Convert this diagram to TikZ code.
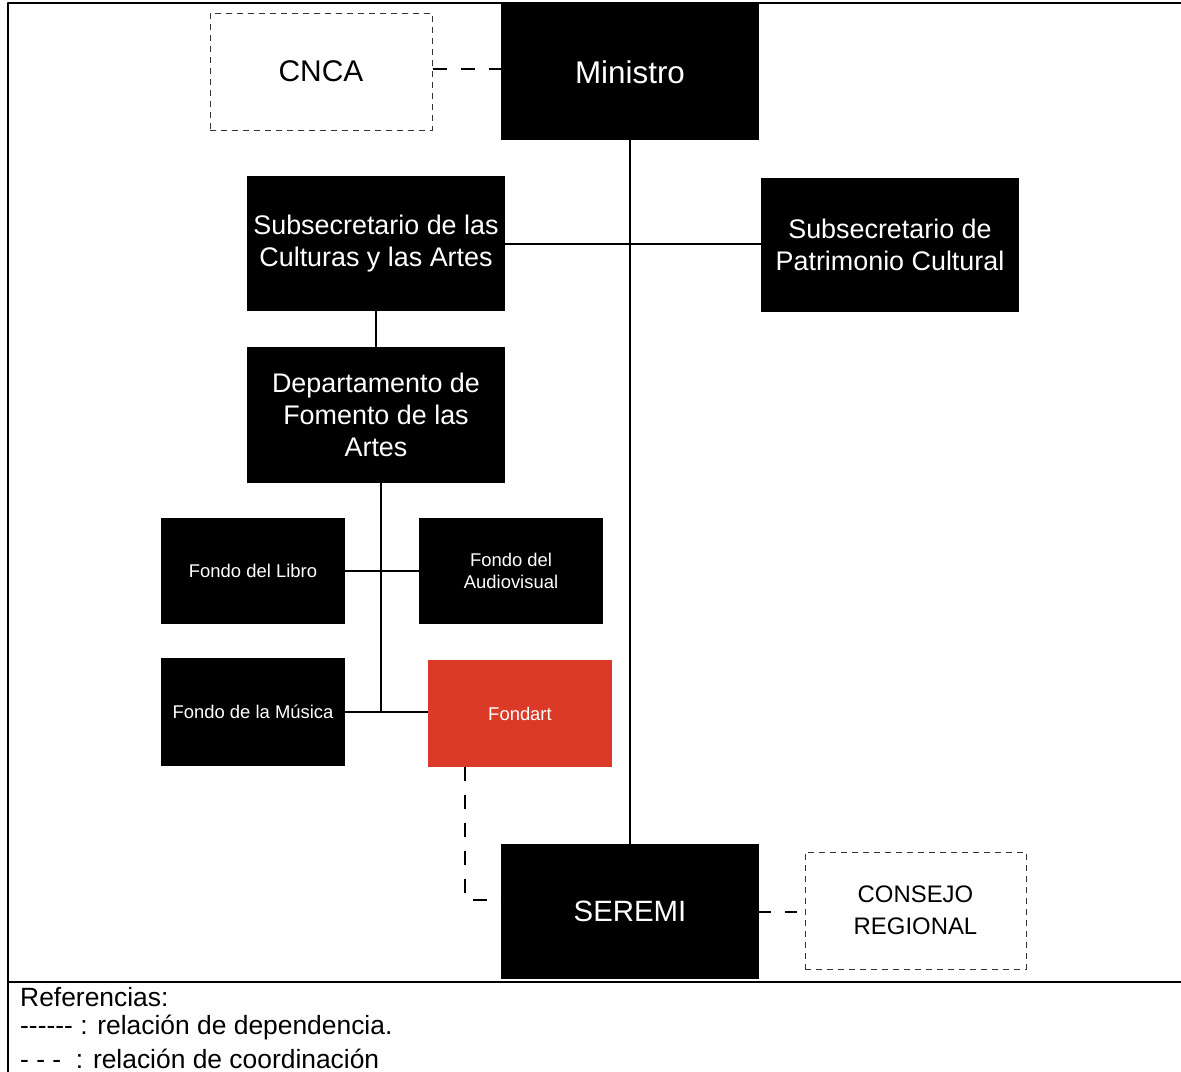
\documentclass[tikz,border=0pt]{standalone}
\usepackage{fontspec}
\setmainfont{Liberation Sans}[Ligatures=TeXOff]
\usepackage{xcolor}
\usetikzlibrary{arrows}

\definecolor{fondartred}{HTML}{DB3B26}

\begin{document}
\begin{tikzpicture}[x=1bp,y=-1bp,line join=bevel,
  unit/.style={fill=black,text=white,inner sep=0pt,align=center,minimum width=258bp,minimum height=135bp,font=\fontsize{27}{32.5}\selectfont},
  fondo/.style={unit,minimum width=184bp,minimum height=106bp,font=\fontsize{18.5}{22}\selectfont},
  outside/.style={draw=black!80,line width=1bp,dash pattern=on 6bp off 5bp,inner sep=0pt,align=center,font=\fontsize{24}{32}\selectfont},
  dep/.style={line width=2bp},
  coord/.style={line width=2bp,dash pattern=on 14bp off 14bp},
  note/.style={anchor=west,inner sep=0pt,font=\fontsize{26.5}{30}\selectfont}]
  \useasboundingbox (0,0) rectangle (1181,1072);
%%
  % Frame
  \draw[line width=2.5bp] (8,1072) -- (8,3) -- (1181,3);
  \draw[line width=2bp] (8,982) -- (1181,982);
  % Node: cnca
  \node[outside,minimum width=222bp,minimum height=117bp,font=\fontsize{30}{32}\selectfont] (cnca) at (321,71.5) {CNCA};
  % Node: ministro
  \node[unit,minimum height=136bp,font=\fontsize{31.5}{32}\selectfont] (ministro) at (630,72) {Ministro};
  % Node: subsec
  \node[unit] (subsec) at (376,243.5) {Subsecretario de las\\Culturas y las Artes};
  % Node: patrimonio
  \node[unit,minimum height=134bp] (patrimonio) at (890,245) {Subsecretario de\\Patrimonio Cultural};
  % Node: depto
  \node[unit,minimum height=136bp] (depto) at (376,415) {Departamento de\\Fomento de las\\Artes};
  % Node: libro
  \node[fondo] (libro) at (253,571) {Fondo del Libro};
  % Node: audiovisual
  \node[fondo] (audiovisual) at (511,571) {Fondo del\\Audiovisual};
  % Node: musica
  \node[fondo,minimum height=108bp] (musica) at (253,712) {Fondo de la M\'usica};
  % Node: fondart
  \node[fondo,fill=fondartred,minimum height=107bp] (fondart) at (520,713.5) {Fondart};
  % Node: seremi
  \node[unit,font=\fontsize{29.5}{32}\selectfont] (seremi) at (630,911.5) {SEREMI};
  % Node: consejo
  \node[outside,minimum width=221bp,minimum height=117bp] (consejo) at (915.5,910.5) {CONSEJO\\REGIONAL};
%%
  % Edge: ministro -> seremi
  \draw[dep] (ministro) -- (seremi);
  % Edge: subsec -> patrimonio
  \draw[dep] (subsec.east) -- (subsec.east -| patrimonio.west);
  % Edge: subsec -> depto
  \draw[dep] (subsec) -- (depto);
  % Edge: depto -> fondos
  \draw[dep] ([xshift=5bp]depto.south) -- ([xshift=5bp]depto.south |- musica.east);
  \draw[dep] (libro.east) -- (libro.east -| audiovisual.west);
  \draw[dep] (musica.east) -- (musica.east -| fondart.west);
  % Edge: cnca -> ministro
  \draw[coord] ([yshift=3bp]cnca.east) -- ([yshift=3bp]cnca.east -| ministro.west);
  % Edge: fondart -> seremi
  \draw[coord] ([xshift=37bp]fondart.south west) |- ([yshift=12bp]seremi.west);
  % Edge: seremi -> consejo
  \draw[coord,dash pattern=on 12bp off 14bp] (seremi.east) -- (seremi.east -| consejo.west);
%%
  % Legend
  \node[note] (ref) at (20,997) {Referencias:};
  \node[note] (refdep) at (20,1028) {------ : relaci\'on de dependencia.};
  \node[note] (refcoord) at (20,1059) {- - - \ : relaci\'on de coordinaci\'on};
%
\end{tikzpicture}
\end{document}
